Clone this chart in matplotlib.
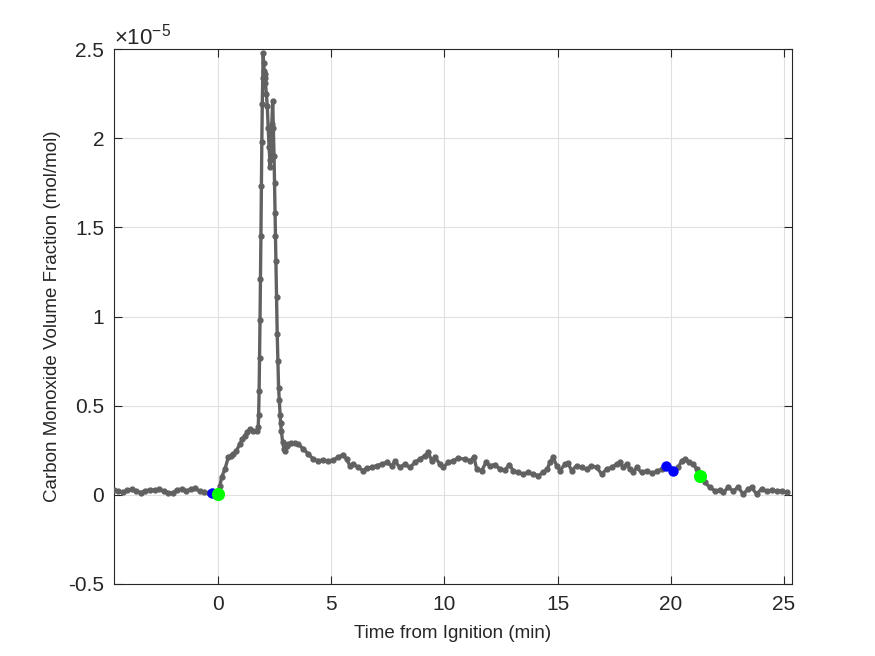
import matplotlib
matplotlib.use("Agg")
import matplotlib.pyplot as plt
from matplotlib.ticker import FuncFormatter, FixedLocator

# ---------------- data (time in min, CO in units of 1e-6 mol/mol) ----------------
time_min = [
    -4.6, -4.4, -4.2, -4.0, -3.8, -3.6, -3.4, -3.2, -3.0, -2.8, -2.6, -2.4, -2.2, -2.0,
    -1.8, -1.6, -1.4, -1.2, -1.0, -0.8, -0.6, -0.4, -0.28, -0.15, 0.0,
    0.09, 0.16, 0.31, 0.46, 0.57, 0.68, 0.82, 0.97, 1.08, 1.19, 1.30, 1.41, 1.56, 1.71,
    1.78, 1.80, 1.82, 1.84, 1.86, 1.88, 1.90, 1.92, 1.94, 1.96, 1.98, 2.00, 2.02, 2.04,
    2.06, 2.08, 2.10, 2.14, 2.18, 2.22, 2.26, 2.29, 2.31, 2.34, 2.38, 2.42, 2.45, 2.48,
    2.50, 2.52, 2.54, 2.56, 2.59, 2.62, 2.65, 2.68, 2.71, 2.74, 2.77, 2.80, 2.86, 2.92,
    2.96, 3.03, 3.11, 3.25, 3.40, 3.55, 3.77, 3.99, 4.21, 4.43, 4.65, 4.87, 5.09, 5.31,
    5.53, 5.68, 5.83, 5.98, 6.20, 6.42, 6.57, 6.79, 7.01, 7.23, 7.45, 7.67, 7.82, 8.04,
    8.26, 8.48, 8.70, 8.92, 9.14, 9.29, 9.44, 9.58, 9.81, 9.95, 10.17, 10.39, 10.61,
    10.91, 11.13, 11.31, 11.43, 11.65, 11.84, 12.01, 12.23, 12.46, 12.68, 12.87, 13.04,
    13.26, 13.48, 13.71, 13.93, 14.15, 14.37, 14.55, 14.66, 14.81, 14.96, 15.11, 15.33,
    15.47, 15.62, 15.84, 16.06, 16.28, 16.50, 16.73, 16.95, 17.17, 17.39, 17.61, 17.76,
    17.90, 18.05, 18.20, 18.35, 18.49, 18.71, 18.94, 19.16, 19.38, 19.60, 19.77, 19.95,
    20.11, 20.33, 20.48, 20.63, 20.82, 21.00, 21.14, 21.30, 21.51, 21.73, 21.95, 22.17,
    22.32, 22.54, 22.76, 22.98, 23.20, 23.42, 23.57, 23.79, 24.01, 24.24, 24.46, 24.68,
    24.90, 25.12,
]
co_1e6 = [
    0.26, 0.22, 0.15, 0.25, 0.30, 0.20, 0.12, 0.22, 0.28, 0.25, 0.30, 0.22, 0.12, 0.10,
    0.28, 0.32, 0.22, 0.30, 0.35, 0.20, 0.15, 0.12, 0.10, 0.08, 0.05,
    0.5, 0.97, 1.44, 2.1, 2.2, 2.28, 2.47, 2.85, 3.1, 3.31, 3.5, 3.69, 3.6, 3.56,
    3.8, 4.5, 5.8, 7.7, 9.8, 12.1, 14.5, 17.3, 19.8, 21.9, 23.4, 24.8, 24.2, 23.8,
    23.6, 23.4, 23.1, 22.5, 21.8, 20.6, 19.5, 18.8, 18.4, 19.3, 20.8, 22.1, 20.6, 19.0,
    17.5, 15.8, 14.5, 13.1, 11.1, 9.0, 7.5, 6.0, 5.3, 4.5, 4.0, 3.6, 2.94, 2.57,
    2.47, 2.75, 2.85, 2.88, 2.9, 2.85, 2.57, 2.29, 2.0, 1.91, 1.95, 1.87, 1.95, 2.1,
    2.25, 2.0, 1.63, 1.72, 1.53, 1.35, 1.5, 1.53, 1.63, 1.72, 1.81, 1.63, 1.87, 1.53,
    1.72, 1.53, 1.81, 2.0, 2.19, 2.38, 1.91, 2.1, 1.72, 1.53, 1.81, 1.91, 2.05,
    2.0, 1.91, 2.1, 1.44, 1.35, 1.81, 1.63, 1.69, 1.44, 1.39, 1.69, 1.35,
    1.25, 1.16, 1.25, 1.16, 1.07, 1.25, 1.44, 1.81, 2.1, 1.63, 1.35, 1.72,
    1.76, 1.35, 1.63, 1.53, 1.44, 1.63, 1.53, 1.16, 1.44, 1.53, 1.72, 1.81,
    1.53, 1.72, 1.44, 1.25, 1.53, 1.25, 1.35, 1.2, 1.31, 1.44, 1.59, 1.5,
    1.35, 1.53, 1.91, 2.0, 1.81, 1.72, 1.44, 1.05, 0.69, 0.41, 0.22, 0.26,
    0.13, 0.41, 0.22, 0.41, 0.04, 0.32, 0.41, 0.04, 0.32, 0.19, 0.26, 0.19,
    0.22, 0.13,
]
blue_t = [-0.28, 19.77, 20.11]
blue_co_1e6 = [0.10, 1.59, 1.35]
green_t = [0.0, 21.30]
green_co_1e6 = [0.05, 1.05]

x_ticks = [0, 5, 10, 15, 20, 25]
y_ticks_1e5 = [-0.5, 0, 0.5, 1, 1.5, 2, 2.5]

# ---------------- style ----------------
plt.rcParams['font.family'] = ['Liberation Sans', 'DejaVu Sans']
plt.rcParams['axes.unicode_minus'] = False

scale = 1e-6
co = [v * scale for v in co_1e6]
blue_co = [v * scale for v in blue_co_1e6]
green_co = [v * scale for v in green_co_1e6]

fig = plt.figure(figsize=(8.75, 6.56), dpi=100)
ax = fig.add_axes([0.13, 0.11, 0.775, 0.815])

ax.plot(time_min, co, color='#616161', lw=2.4, marker='.', ms=7, zorder=3)
ax.plot(blue_t, blue_co, linestyle='none', marker='o', ms=7.5, color='#0000ff',
        markeredgewidth=0, zorder=4)
ax.plot(green_t, green_co, linestyle='none', marker='o', ms=9.5, color='#00ff00',
        markeredgewidth=0, zorder=5)

ax.set_xlim(-4.6, 25.35)
ax.set_ylim(-0.5e-5, 2.5e-5)
ax.xaxis.set_major_locator(FixedLocator(x_ticks))
ax.yaxis.set_major_locator(FixedLocator([v * 1e-5 for v in y_ticks_1e5]))
ax.yaxis.set_major_formatter(FuncFormatter(lambda v, p: '%g' % round(v / 1e-5, 6)))

axis_col = '#262626'
for s in ax.spines.values():
    s.set_color(axis_col)
    s.set_linewidth(0.8)
ax.tick_params(direction='in', length=6, width=0.8, colors=axis_col, labelsize=15,
               top=True, right=True)
ax.tick_params(axis='x', pad=8)
ax.tick_params(axis='y', pad=7)
ax.grid(True, color='#e0e0e0', linewidth=0.8)
ax.set_axisbelow(True)

ax.set_xlabel('Time from Ignition (min)', fontsize=13.5, color=axis_col, labelpad=8)
ax.set_ylabel('Carbon Monoxide Volume Fraction (mol/mol)', fontsize=13.5,
              color=axis_col, labelpad=5)
ax.text(0.0, 1.0, r'$\mathregular{\times10^{-5}}$', transform=ax.transAxes,
        fontsize=16, color=axis_col, ha='left', va='bottom')

fig.savefig('out.png', dpi=100)
